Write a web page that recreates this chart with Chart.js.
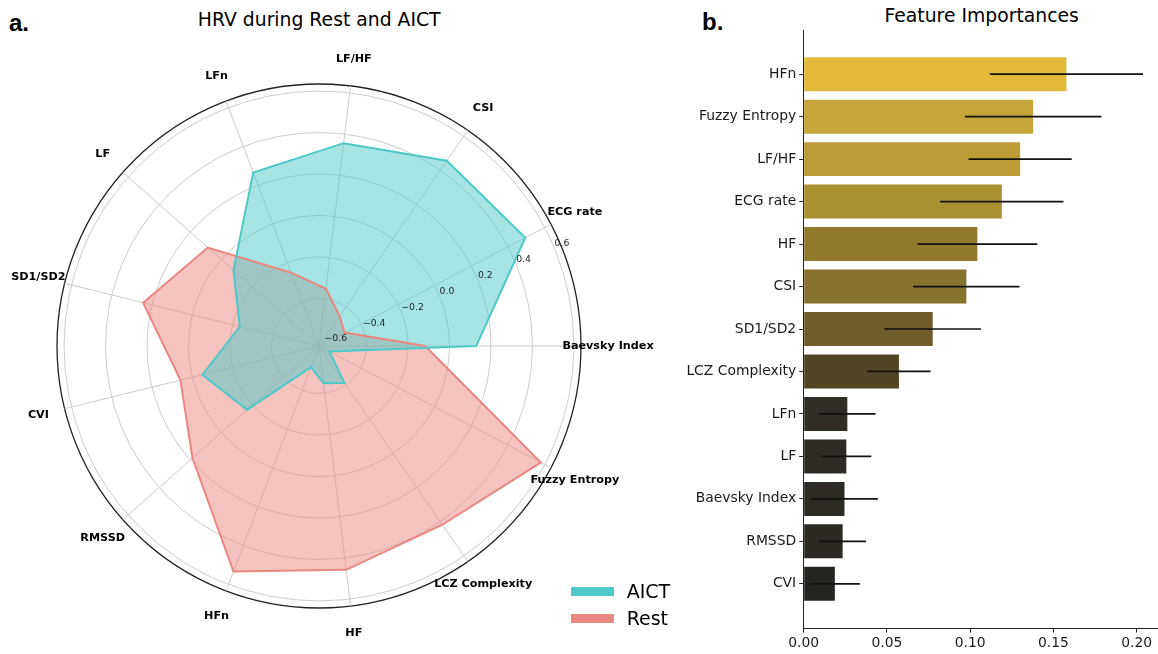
<!DOCTYPE html>
<html>
<head>
<meta charset="utf-8">
<script src="https://cdn.jsdelivr.net/npm/chart.js@4/dist/chart.umd.min.js"></script>
<style>
  body { margin: 0; width: 1158px; height: 654px; background: #fff; position: relative; overflow: hidden; }
  canvas { position: absolute; top: 0; }
  .tag { position: absolute; font: bold 24px "Liberation Sans", Arial, sans-serif; line-height: 24px; color: #000; }
  .title { position: absolute; font: 18.8px "DejaVu Sans", sans-serif; line-height: 18.8px; color: #000; white-space: nowrap; transform: translateX(-50%); }
  .legend-row { position: absolute; left: 571px; font: 19px "DejaVu Sans", sans-serif; line-height: 19px; color: #000; }
  .legend-row span { position: absolute; left: 0; width: 43px; height: 9px; }
  .legend-row b { position: absolute; left: 55.7px; font-weight: normal; white-space: nowrap; }
</style>
</head>
<body>
<div class="tag" style="left:9px; top:10.7px">a.</div>
<div class="tag" style="left:702px; top:9.7px">b.</div>
<div class="title" style="left:319.2px; top:10.8px">HRV during Rest and AICT</div>
<div class="title" style="left:981.7px; top:7.4px">Feature Importances</div>

<canvas id="radarChart" width="690" height="654" style="left:0"></canvas>
<canvas id="barChart" width="478" height="654" style="left:680px"></canvas>
<div id="radarLegend"></div>

<script>
// HRV features, listed clockwise starting from the right-hand axis
const radarLabels = ["Baevsky Index", "Fuzzy Entropy", "LCZ Complexity", "HF", "HFn", "RMSSD",
  "CVI", "SD1/SD2", "LF", "LFn", "LF/HF", "CSI", "ECG rate"];
const aictValues = [0.129, -0.572, -0.412, -0.448, -0.520, -0.166, -0.050, -0.236, -0.078, 0.265, 0.356, 0.456, 0.494];
const restValues = [-0.117, 0.579, 0.418, 0.458, 0.534, 0.186, 0.059, 0.244, 0.087, -0.251, -0.351, -0.454, -0.490];
const rTicks = [-0.6, -0.4, -0.2, 0.0, 0.2, 0.4, 0.6];
const rMin = -0.629;
const rMax = 0.634;

// Feature importances (mean and spread), most important first
const featureNames = ["HFn", "Fuzzy Entropy", "LF/HF", "ECG rate", "HF", "CSI", "SD1/SD2",
  "LCZ Complexity", "LFn", "LF", "Baevsky Index", "RMSSD", "CVI"];
const importances = [0.1578, 0.1378, 0.1300, 0.1190, 0.1043, 0.0977, 0.0775, 0.0572, 0.0262, 0.0256, 0.0245, 0.0234, 0.0187];
const importanceErr = [0.046, 0.041, 0.031, 0.037, 0.036, 0.032, 0.029, 0.019, 0.017, 0.015, 0.020, 0.014, 0.015];
const barColors = ["#e3b93c", "#c6a63a", "#bb9c37", "#a99030", "#917a2e", "#87732d", "#705c2a",
  "#504625", "#312d26", "#2e2b25", "#2d2a24", "#2c2923", "#262420"];
const xTicks = [0, 0.05, 0.10, 0.15, 0.20];

const aictColor = "rgb(78, 201, 200)";
const restColor = "rgb(234, 135, 128)";

Chart.defaults.font.family = '"DejaVu Sans", sans-serif';
Chart.defaults.color = "#1a1a1a";

// Axis names around the rim and the radial value labels
const radarTextPlugin = {
  id: 'radarText',
  afterDraw(chart) {
    const scale = chart.scales.r;
    const c = chart.ctx;
    c.save();
    c.fillStyle = "#000";
    c.font = 'bold 11.2px "DejaVu Sans"';
    c.textAlign = "center";
    c.textBaseline = "middle";
    radarLabels.forEach((name, i) => {
      const p = scale.getPointPosition(i, scale.drawingArea + 27);
      c.fillText(name, p.x, p.y);
    });

    c.fillStyle = "#262626";
    c.font = '9.3px "DejaVu Sans"';
    c.textAlign = "left";
    c.textBaseline = "bottom";
    const a = 22.5 * Math.PI / 180;
    rTicks.forEach(v => {
      const d = scale.getDistanceFromCenterForValue(v);
      const txt = v.toFixed(1).replace("-", "\u2212");
      c.fillText(txt, scale.xCenter + d * Math.cos(a), scale.yCenter - d * Math.sin(a));
    });
    c.restore();
  }
};

new Chart(document.getElementById("radarChart").getContext("2d"), {
  type: 'radar',
  data: {
    labels: radarLabels,
    datasets: [
      {
        label: 'AICT',
        data: aictValues,
        borderColor: aictColor,
        backgroundColor: aictColor.replace("rgb", "rgba").replace(")", ", 0.5)"),
        borderWidth: 2,
        pointRadius: 0,
        tension: 0,
        fill: 'start'
      },
      {
        label: 'Rest',
        data: restValues,
        borderColor: restColor,
        backgroundColor: restColor.replace("rgb", "rgba").replace(")", ", 0.5)"),
        borderWidth: 2,
        pointRadius: 0,
        tension: 0,
        fill: 'start'
      }
    ]
  },
  options: {
    responsive: false,
    animation: false,
    layout: {
      padding: { left: 57.5, top: 84.8, right: 108.5, bottom: 45.2 }
    },
    plugins: {
      legend: { display: false },
      tooltip: { enabled: false },
      filler: { drawTime: 'beforeDatasetsDraw' }
    },
    scales: {
      r: {
        min: rMin,
        max: rMax,
        startAngle: 90,
        afterBuildTicks: (scale) => {
          scale.ticks = [rMin, ...rTicks, rMax].map(v => ({ value: v }));
        },
        ticks: { display: false },
        pointLabels: { display: false },
        grid: {
          circular: true,
          color: (ctx) => {
            const v = ctx.tick ? ctx.tick.value : 0;
            if (v <= rMin) return "rgba(0,0,0,0)";
            if (v >= rMax) return "#222";
            return "#cccccc";
          },
          lineWidth: (ctx) => (ctx.tick && ctx.tick.value >= rMax ? 1.3 : 1)
        },
        angleLines: { color: "#cccccc", lineWidth: 1 }
      }
    }
  },
  plugins: [radarTextPlugin]
});

// Legend for the radar panel
const legendBox = document.getElementById("radarLegend");
[["AICT", aictColor, 587.3, 581.8], ["Rest", restColor, 613.5, 608.5]].forEach(([name, color, patchTop, textTop]) => {
  const row = document.createElement("div");
  row.className = "legend-row";
  row.style.top = "0px";
  row.innerHTML = `<span style="top:${patchTop}px; background:${color}"></span><b style="top:${textTop}px">${name}</b>`;
  legendBox.appendChild(row);
});

// Horizontal error bars on top of the importance bars
const errorBarPlugin = {
  id: 'errorBars',
  afterDatasetsDraw(chart) {
    const x = chart.scales.x;
    const c = chart.ctx;
    const bars = chart.getDatasetMeta(0).data;
    c.save();
    c.strokeStyle = "#111";
    c.lineWidth = 1.7;
    bars.forEach((bar, i) => {
      c.beginPath();
      c.moveTo(x.getPixelForValue(importances[i] - importanceErr[i]), bar.y);
      c.lineTo(x.getPixelForValue(importances[i] + importanceErr[i]), bar.y);
      c.stroke();
    });
    c.restore();
  }
};

new Chart(document.getElementById("barChart").getContext("2d"), {
  type: 'bar',
  data: {
    datasets: [{
      data: importances.map((v, i) => ({ x: v, y: i })),
      backgroundColor: barColors,
      borderWidth: 0,
      categoryPercentage: 0.8,
      barPercentage: 1.0
    }]
  },
  options: {
    indexAxis: 'y',
    responsive: false,
    animation: false,
    layout: { padding: { top: 30, left: 0, right: 0, bottom: 0 } },
    plugins: {
      legend: { display: false },
      tooltip: { enabled: false }
    },
    scales: {
      x: {
        type: 'linear',
        min: 0,
        max: 0.2128,
        afterBuildTicks: (scale) => { scale.ticks = xTicks.map(v => ({ value: v })); },
        afterFit: (scale) => { scale.height = 26; },
        ticks: {
          callback: (v) => v.toFixed(2),
          font: { size: 13.9 },
          color: "#1a1a1a",
          padding: 3,
          maxRotation: 0,
          autoSkip: false
        },
        grid: { drawOnChartArea: false, offset: false, tickLength: 4.5, color: "#222" },
        border: { display: true, color: "#222", width: 1 }
      },
      y: {
        type: 'linear',
        reverse: true,
        offset: false,
        min: -1.04,
        max: 13.04,
        afterBuildTicks: (scale) => { scale.ticks = featureNames.map((n, i) => ({ value: i })); },
        afterFit: (scale) => { scale.width = 123.7; },
        ticks: {
          callback: (v) => featureNames[v],
          font: { size: 13.9 },
          color: "#1a1a1a",
          padding: 3,
          autoSkip: false
        },
        grid: { drawOnChartArea: false, offset: false, tickLength: 4.5, color: "#222" },
        border: { display: true, color: "#222", width: 1 }
      }
    }
  },
  plugins: [errorBarPlugin]
});
</script>
</body>
</html>
